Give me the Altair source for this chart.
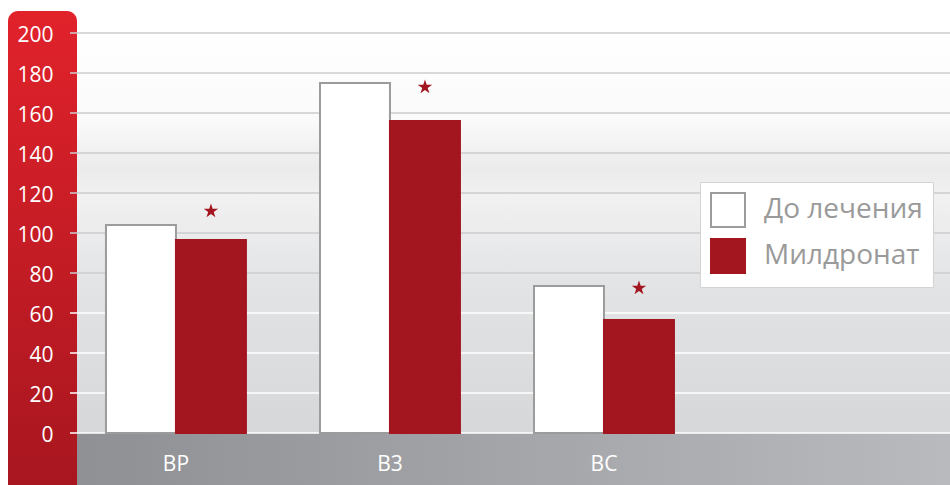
import altair as alt
import pandas as pd

categories = ["BP", "B3", "BC"]
series = ["До лечения", "Милдронат"]
before_values = [104, 175, 73.5]
mildronat_values = [96.5, 156, 56.5]
star_values = [111, 173, 72.5]
y_ticks = [0, 20, 40, 60, 80, 100, 120, 140, 160, 180, 200]

RED = "#a3161f"
W, H = 873, 400

bars_df = pd.DataFrame({
    "cat": categories * 2,
    "series": [series[0]] * 3 + [series[1]] * 3,
    "value": before_values + mildronat_values,
})
stars_df = pd.DataFrame({"cat": categories, "series": [series[1]] * 3, "value": star_values})
grid_df = pd.DataFrame({"v": y_ticks})
one = pd.DataFrame({"z": [0]})

y_scale = alt.Scale(domain=[0, 200], nice=False)
y_axis = alt.Axis(values=y_ticks, grid=False, ticks=False, domain=False, labelColor="white",
                  labelFontSize=21, labelPadding=24, labelOffset=2, title=None, zindex=1,
                  labelFont="Open Sans")
x_enc = alt.X("cat:N", sort=categories,
              scale=alt.Scale(paddingInner=0.346, paddingOuter=0.7126, align=0.095),
              axis=alt.Axis(title=None, labelAngle=0, ticks=False, domain=False, labelColor="white",
                            labelFontSize=21, labelPadding=20, zindex=1, labelFont="Open Sans"))
xoff_enc = alt.XOffset("series:N", sort=series, scale=alt.Scale(paddingInner=0, paddingOuter=0))

grad_v = alt.LinearGradient(gradient="linear", x1=0, x2=0, y1=0, y2=1, stops=[
    alt.GradientStop(color="#ffffff", offset=0),
    alt.GradientStop(color="#fafafa", offset=0.22),
    alt.GradientStop(color="#ebebec", offset=0.34),
    alt.GradientStop(color="#f1f1f2", offset=0.41),
    alt.GradientStop(color="#e3e4e5", offset=0.62),
    alt.GradientStop(color="#d6d7d9", offset=1),
])
grad_h = alt.LinearGradient(gradient="linear", x1=0, x2=1, y1=0, y2=0, stops=[
    alt.GradientStop(color="#8f9094", offset=0),
    alt.GradientStop(color="#b9babd", offset=1),
])
grad_red = alt.LinearGradient(gradient="linear", x1=0, x2=0, y1=0, y2=1, stops=[
    alt.GradientStop(color="#e1222b", offset=0),
    alt.GradientStop(color="#a8161f", offset=1),
])

bg = alt.Chart(one).mark_rect(fill=grad_v).encode(
    x=alt.value(0), x2=alt.value(W), y=alt.value(0), y2=alt.value(H))
band = alt.Chart(one).mark_rect(fill=grad_h).encode(
    x=alt.value(0), x2=alt.value(W), y=alt.value(H), y2=alt.value(H + 52))
panel = alt.Chart(one).mark_rect(fill=grad_red, cornerRadiusTopLeft=10, cornerRadiusTopRight=10).encode(
    x=alt.value(-69), x2=alt.value(0), y=alt.value(-22), y2=alt.value(H + 52))

grid = alt.Chart(grid_df).mark_rule(strokeWidth=1.5).encode(
    y=alt.Y("v:Q", scale=y_scale, axis=y_axis),
    x=alt.value(-7), x2=alt.value(W),
    color=alt.condition(alt.datum.v <= 60, alt.value("#ffffff"), alt.value("#cdcdcf")),
)

bars = alt.Chart(bars_df).mark_bar(strokeWidth=2).encode(
    x=x_enc,
    xOffset=xoff_enc,
    y=alt.Y("value:Q", scale=y_scale, axis=y_axis),
    fill=alt.Fill("series:N", sort=series,
                  scale=alt.Scale(domain=series, range=["#ffffff", RED]),
                  legend=alt.Legend(title=None)),
    stroke=alt.Stroke("series:N", sort=series,
                      scale=alt.Scale(domain=series, range=["#9c9c9c", RED]),
                      legend=alt.Legend(title=None)),
)

star_path = ("M0,-1L0.2245,-0.309L0.951,-0.309L0.363,0.118L0.588,0.809L0,0.382"
             "L-0.588,0.809L-0.363,0.118L-0.951,-0.309L-0.2245,-0.309Z")
stars = alt.Chart(stars_df).mark_point(shape=star_path, filled=True, size=230, color=RED, opacity=1).encode(
    x=x_enc,
    xOffset=xoff_enc,
    y=alt.Y("value:Q", scale=y_scale, axis=y_axis),
)

chart = alt.layer(bg, band, panel, grid, bars, stars).properties(
    width=W, height=H,
    padding={"left": 77, "top": 33, "right": 0, "bottom": 52},
    autosize="none",
).configure_view(stroke=None).configure(background="white", font="Open Sans").configure_legend(
    orient="none", legendX=623, legendY=149,
    fillColor="white", strokeColor="#d3d3d3", padding=10,
    symbolType="square", symbolSize=1156, symbolStrokeWidth=2,
    labelFontSize=28, labelColor="#9a9a9a", labelFont="Open Sans", labelOffset=18,
    rowPadding=4,
)

chart.save("out.html", embed_options={"renderer": "svg", "actions": False})
